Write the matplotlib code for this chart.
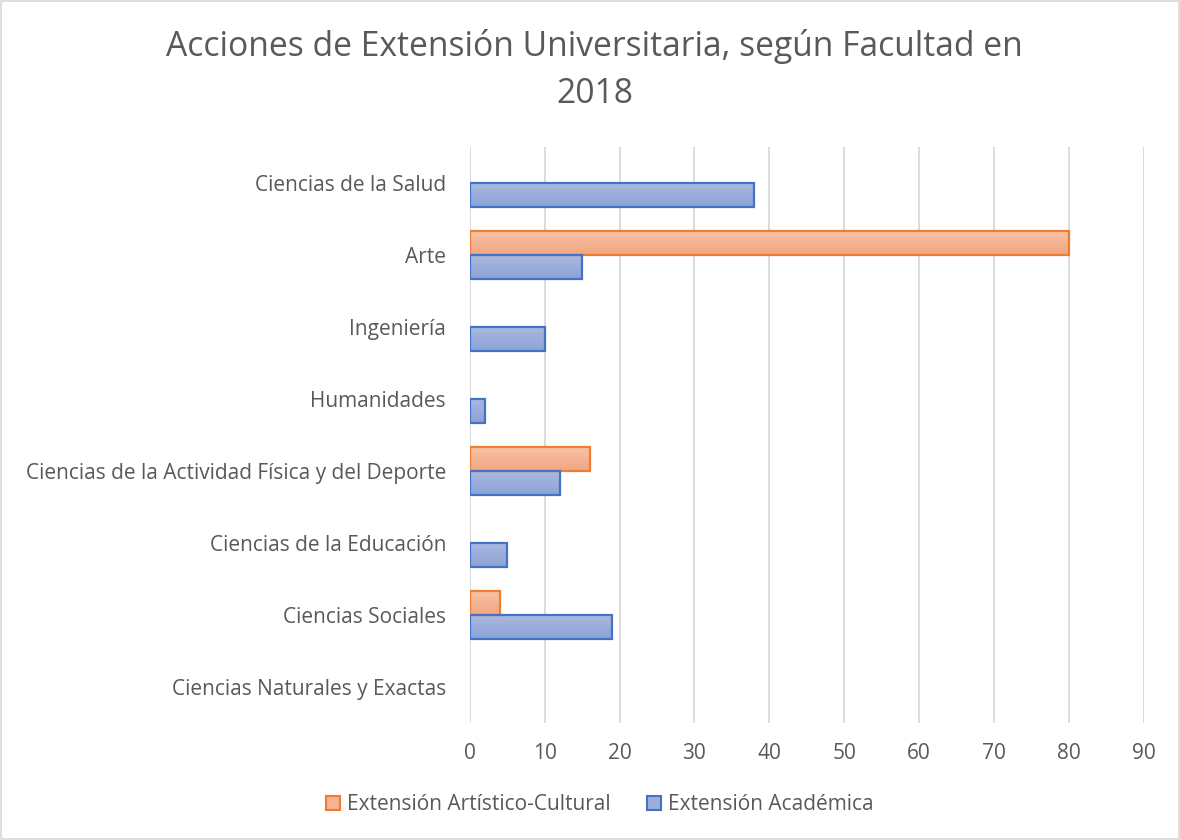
import numpy as np
import matplotlib
matplotlib.use("Agg")
from matplotlib import pyplot as plt
from matplotlib.colors import LinearSegmentedColormap
from matplotlib.patches import Rectangle

plt.rcParams['font.family'] = ['Open Sans', 'DejaVu Sans']

facultades = [
    "Ciencias de la Salud",
    "Arte",
    "Ingeniería",
    "Humanidades",
    "Ciencias de la Actividad Física y del Deporte",
    "Ciencias de la Educación",
    "Ciencias Sociales",
    "Ciencias Naturales y Exactas",
]
artistico = [0, 80, 0, 0, 16, 0, 4, 0]
academica = [38, 15, 10, 2, 12, 5, 19, 0]
series = ["Extensión Artístico-Cultural", "Extensión Académica"]

gris = "#595959"
fig = plt.figure(figsize=(11.8, 8.4), dpi=100)
fig.patches.append(Rectangle((0.001, 0.001), 0.998, 0.998, transform=fig.transFigure,
                             fill=False, edgecolor="#d9d9d9", linewidth=1.2))
ax = fig.add_axes([0.398, 0.139, 0.5715, 0.686])

y = np.arange(len(facultades))
h = 0.333

# gradientes estilo Excel
cm_nar = LinearSegmentedColormap.from_list("nar", ["#F7C3A6", "#F3A580"])
cm_azu = LinearSegmentedColormap.from_list("azu", ["#AAB9E1", "#8CA2D8"])
grad = np.linspace(0, 1, 64).reshape(-1, 1)

def barras(vals, offs, cmap, borde):
    bars = ax.barh(y + offs, vals, height=h, color="none", edgecolor=borde,
                   linewidth=1.6, zorder=3)
    for b, v in zip(bars, vals):
        if v == 0:
            b.set_visible(False)
            continue
        x0, y0 = b.get_x(), b.get_y()
        im = ax.imshow(grad, cmap=cmap, aspect="auto", zorder=2.5,
                       extent=[x0, x0 + b.get_width(), y0 + b.get_height(), y0],
                       interpolation="bilinear")
        im.set_clip_path(b)
    return bars

barras(artistico, -h / 2, cm_nar, "#ED7D31")
barras(academica, h / 2, cm_azu, "#4472C4")

ax.set_xlim(0, 90)
ax.set_ylim(len(facultades) - 0.5, -0.5)
ax.set_xticks(np.arange(0, 91, 10))
ax.set_yticks(y)
ax.set_yticklabels(facultades)
ax.tick_params(axis="both", length=0, labelsize=15, labelcolor=gris)
ax.tick_params(axis="y", pad=17)
ax.tick_params(axis="x", pad=14)
ax.grid(axis="x", color="#d9d9d9", linewidth=1.3, zorder=0)
ax.set_axisbelow(True)
for s in ax.spines.values():
    s.set_visible(False)

fig.text(0.504, 0.966, "Acciones de Extensión Universitaria, según Facultad en\n2018",
         ha="center", va="top", fontsize=24.2, color=gris, linespacing=1.5)

handles = [Rectangle((0, 0), 1, 1, facecolor="#F5B393", edgecolor="#ED7D31", linewidth=1.5),
           Rectangle((0, 0), 1, 1, facecolor="#9CAEDD", edgecolor="#4472C4", linewidth=1.5)]
fig.legend(handles, series, loc="center", bbox_to_anchor=(0.508, 0.042), ncol=2,
           frameon=False, fontsize=15, labelcolor=gris, handlelength=0.7,
           handleheight=0.7, handletextpad=0.3, columnspacing=1.75)

fig.savefig("out.png", dpi=100)
